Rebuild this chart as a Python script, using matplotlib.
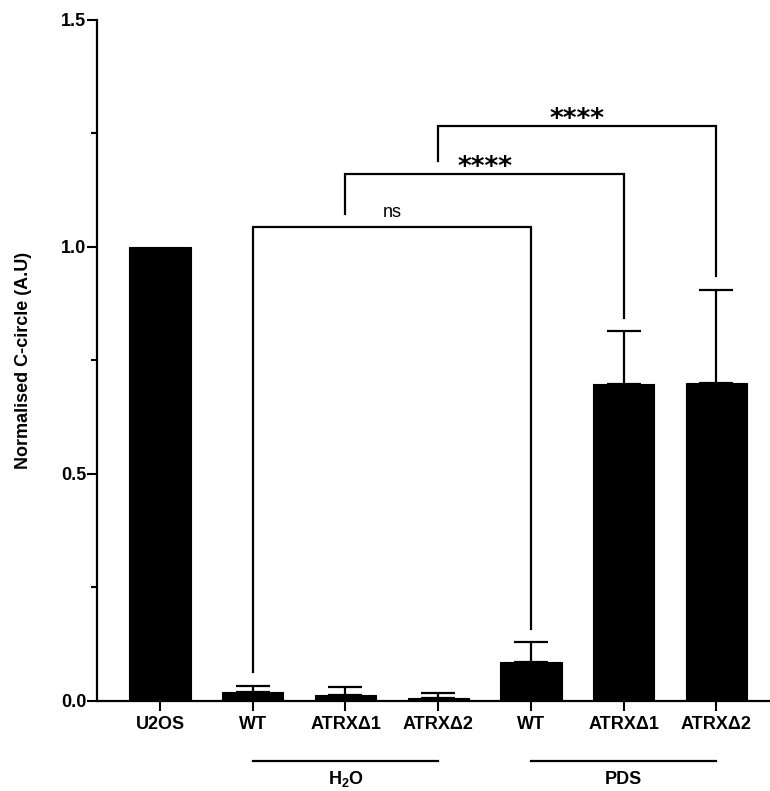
import numpy as np
import matplotlib
matplotlib.use('Agg')
import matplotlib.pyplot as plt

plt.rcParams['font.family'] = ['Liberation Sans', 'DejaVu Sans']
plt.rcParams['mathtext.fontset'] = 'custom'
plt.rcParams['mathtext.rm'] = 'Liberation Sans'
plt.rcParams['mathtext.bf'] = 'Liberation Sans:bold'

# data
labels = ['U2OS', 'WT', 'ATRXΔ1', 'ATRXΔ2', 'WT', 'ATRXΔ1', 'ATRXΔ2']
means = [1.0, 0.018, 0.012, 0.006, 0.084, 0.698, 0.700]
sem = [0.0, 0.014, 0.017, 0.010, 0.044, 0.115, 0.205]
groups = ['$\\mathbf{H_2O}$', 'PDS']
group_members = [(1, 3), (4, 6)]
comparisons = [(1, 4, 'ns'), (2, 5, '****'), (3, 6, '****')]

x = np.arange(len(labels))
fig = plt.figure(figsize=(7.7, 7.91), dpi=100)
ax = fig.add_axes([0.1266, 0.1144, 0.8734, 0.8609])

ax.bar(x, means, width=0.66, color='black', edgecolor='black', linewidth=0.8, zorder=2)
err = np.array(sem)
has_err = err > 0
ax.errorbar(x[has_err], np.array(means)[has_err], yerr=[np.zeros(has_err.sum()), err[has_err]],
            fmt='none', ecolor='black', elinewidth=1.6, capsize=12, capthick=1.6, zorder=1)

ax.set_xlim(-0.674, 6.577)
ax.set_ylim(0, 1.5)
ax.set_yticks([0, 0.5, 1.0, 1.5])
ax.set_yticklabels(['0.0', '0.5', '1.0', '1.5'], fontsize=13, fontweight='bold')
ax.set_yticks([0.25, 0.75, 1.25], minor=True)
ax.set_xticks(x)
ax.set_xticklabels(labels, fontsize=13, fontweight='bold')
ax.tick_params(axis='y', which='major', length=7, width=1.5, pad=1)
ax.tick_params(axis='y', which='minor', length=4, width=1.5)
ax.tick_params(axis='x', length=7, width=1.5, pad=4.5)
for s in ['top', 'right']:
    ax.spines[s].set_visible(False)
for s in ['left', 'bottom']:
    ax.spines[s].set_linewidth(1.6)
ax.set_ylabel('Normalised C-circle (A.U)', fontsize=13, fontweight='bold', labelpad=21)

# significance brackets
tops = np.array(means) + err
gap = 0.03
levels = [1.042, 1.159, 1.266]
prev = None
for (i, j, txt), yb in zip(comparisons, levels):
    left_bot = tops[i] + gap if prev is None else prev + gap
    right_bot = tops[j] + gap
    ax.plot([i, i, j, j], [left_bot, yb, yb, right_bot], color='black', lw=1.6,
            solid_joinstyle='miter', clip_on=False)
    if txt == 'ns':
        ax.text((i + j) / 2, yb + 0.023, txt, ha='center', va='baseline', fontsize=13)
    else:
        ax.text((i + j) / 2, yb - 0.002, txt, ha='center', va='baseline', fontsize=19,
                fontweight='bold', family='DejaVu Sans')
    prev = yb

# group labels under the axis
for name, (a, b) in zip(groups, group_members):
    ax.plot([a, b], [-0.133, -0.133], color='black', lw=1.6, clip_on=False)
    ax.text((a + b) / 2, -0.184, name, ha='center', va='baseline', fontsize=13, fontweight='bold')

fig.savefig('out.png', dpi=100)
